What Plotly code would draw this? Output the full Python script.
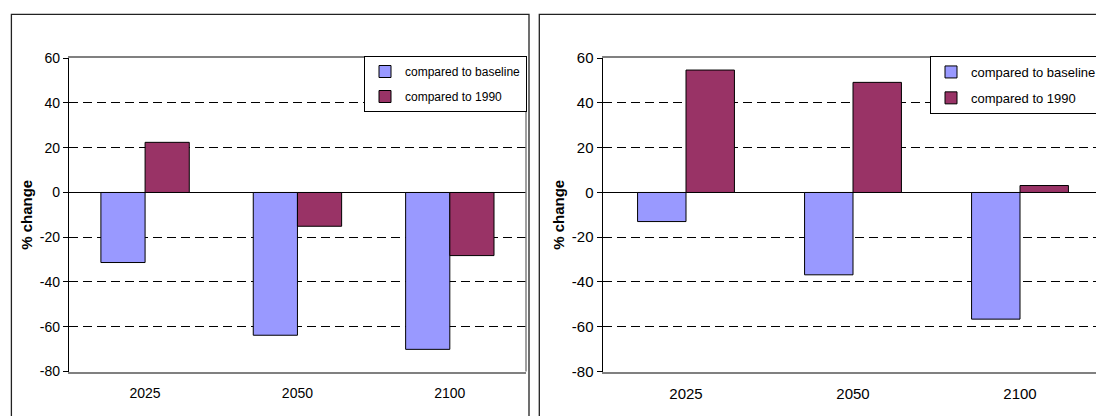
import plotly.graph_objects as go

years = ["2025", "2050", "2100"]
left_baseline = [-31.3, -63.8, -70.1]
left_1990 = [22.4, -15.1, -28.2]
right_baseline = [-13.0, -36.8, -56.6]
right_1990 = [54.7, 49.2, 3.1]
series_names = ["compared to baseline", "compared to 1990"]
y_ticks = [-80, -60, -40, -20, 0, 20, 40, 60]
y_tick_labels = ["-80", "-60", "-40", "-20", "0", "20", "40", "60"]
y_title = "% change"

C_BASE = "#9999FF"
C_1990 = "#993366"
FONT = "Liberation Sans, Arial, sans-serif"
W, H = 1096, 416

def px(x):
    return x / W

def py(y):
    return 1 - y / H

fig = go.Figure()

fig.add_trace(go.Bar(x=years, y=left_baseline, name=series_names[0], marker=dict(color=C_BASE, line=dict(color="black", width=1)),
                     xaxis="x", yaxis="y", legend="legend", legendgroup="a"))
fig.add_trace(go.Bar(x=years, y=left_1990, name=series_names[1], marker=dict(color=C_1990, line=dict(color="black", width=1)),
                     xaxis="x", yaxis="y", legend="legend", legendgroup="b"))
fig.add_trace(go.Bar(x=years, y=right_baseline, name=series_names[0], marker=dict(color=C_BASE, line=dict(color="black", width=1)),
                     xaxis="x2", yaxis="y2", legend="legend2", legendgroup="c"))
fig.add_trace(go.Bar(x=years, y=right_1990, name=series_names[1], marker=dict(color=C_1990, line=dict(color="black", width=1)),
                     xaxis="x2", yaxis="y2", legend="legend2", legendgroup="d"))

ydom = [py(371.5), py(58.2)]
xdom_l = [px(68.9), px(526)]
xdom_r = [px(602.5), 1.0]
zero_pos = ydom[0] + (80 / 140) * (ydom[1] - ydom[0])
r_range = [-0.5, -0.5 + (W - 602.5) / 167.0]

def yaxis_cfg(fs, tfs):
    return dict(domain=ydom, range=[-80, 60], tickvals=y_ticks, ticktext=y_tick_labels, ticks="outside", ticklen=5,
                tickcolor="black", showline=True, linecolor="black", linewidth=1,
                showgrid=True, gridcolor="black", gridwidth=1, griddash="9px,5px",
                zeroline=True, zerolinecolor="black", zerolinewidth=1, automargin=False,
                tickfont=dict(family=FONT, size=fs, color="black"),
                title=dict(text="<b>" + y_title + "</b>", font=dict(family=FONT, size=tfs, color="black"), standoff=3))

def xaxis_cfg(dom, rng, fs):
    return dict(domain=dom, type="category", range=rng, showline=True, linecolor="#808080", linewidth=1.5,
                mirror=True, ticks="", showgrid=False, zeroline=False, ticklabelstandoff=8, automargin=False,
                tickfont=dict(family=FONT, size=fs, color="black"))

def tick_axis(over, rng, vals):
    return dict(overlaying=over, anchor="free", position=zero_pos, side="bottom", range=rng,
                tickvals=vals, ticks="outside", ticklen=5, tickcolor="black", tickwidth=1, automargin=False,
                showticklabels=False, showgrid=False, zeroline=False, showline=False)

fig.update_layout(
    template="none",
    width=W, height=H, margin=dict(l=0, r=0, t=0, b=0, pad=0, autoexpand=False),
    paper_bgcolor="white", plot_bgcolor="white",
    barmode="group", bargap=0.42, bargroupgap=0,
    font=dict(family=FONT, color="black"),
    xaxis=xaxis_cfg(xdom_l, [-0.5, 2.5], 14),
    yaxis=dict(anchor="x", **yaxis_cfg(14, 15)),
    xaxis2=xaxis_cfg(xdom_r, r_range, 15),
    yaxis2=dict(anchor="x2", **yaxis_cfg(15, 15)),
    xaxis3=tick_axis("x", [-0.5, 2.5], [0.5, 1.5, 2.5]),
    xaxis4=tick_axis("x2", r_range, [0.5, 1.5]),
    legend=dict(x=px(364), y=py(56), xanchor="left", yanchor="top", bgcolor="white",
                bordercolor="black", borderwidth=1, tracegroupgap=6,
                font=dict(family=FONT, size=12, color="black")),
    legend2=dict(x=px(930), y=py(56), xanchor="left", yanchor="top", bgcolor="white",
                 bordercolor="black", borderwidth=1, tracegroupgap=6,
                 font=dict(family=FONT, size=13, color="black")),
    showlegend=True,
    shapes=[
        dict(type="line", xref="x domain", yref="y domain", x0=1, x1=1, y0=0, y1=1,
             line=dict(color="#808080", width=1.5)),
        dict(type="rect", xref="paper", yref="paper", x0=px(11.4), x1=px(529), y0=-0.05, y1=py(14.3),
             line=dict(color="#222222", width=1.3), layer="below"),
        dict(type="rect", xref="paper", yref="paper", x0=px(539.3), x1=1.05, y0=-0.05, y1=py(14.3),
             line=dict(color="#222222", width=1.3), layer="below"),
    ],
)

fig.write_html("out.html", config={"displayModeBar": False},
               post_script="document.body.style.margin='0';document.body.style.overflow='hidden';")
